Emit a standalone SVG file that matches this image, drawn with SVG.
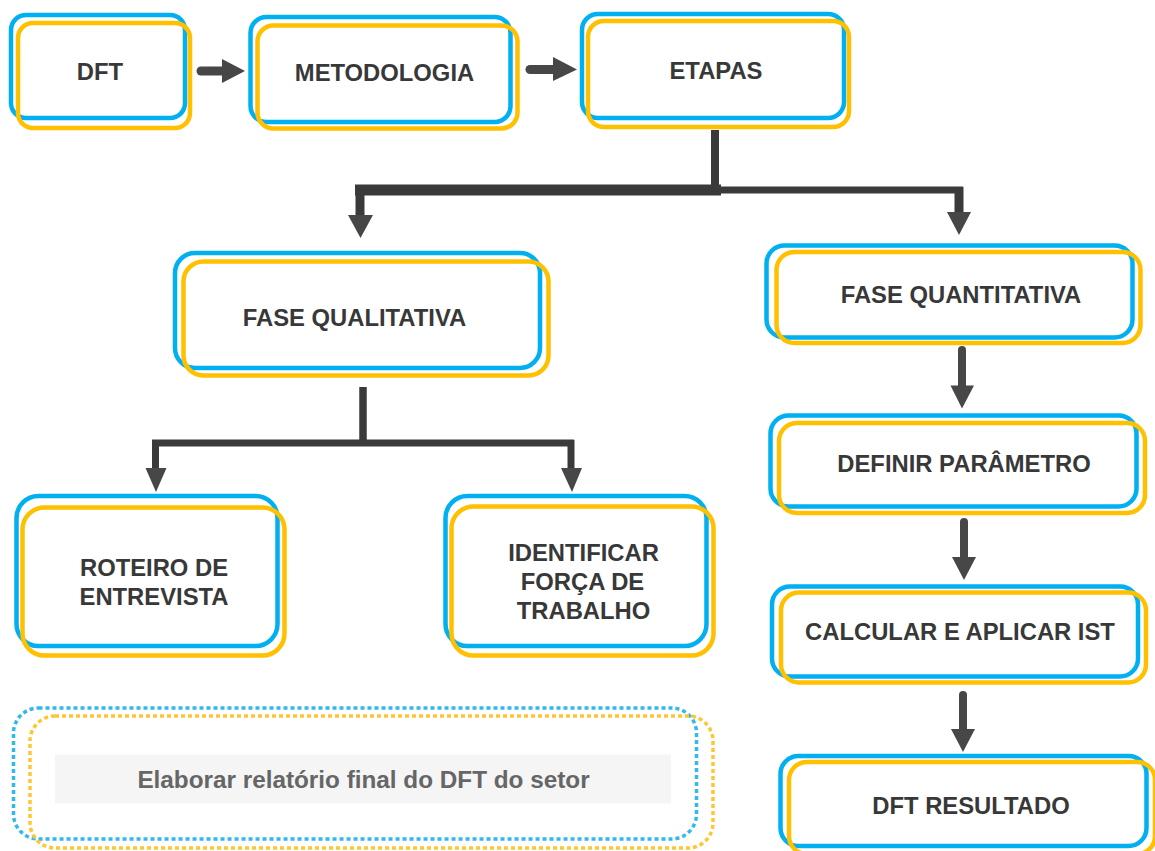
<svg xmlns="http://www.w3.org/2000/svg" width="1155" height="851" viewBox="0 0 1155 851">
<style>
.b{fill:none;stroke:#00B0F0;stroke-width:4.5}
.y{fill:none;stroke:#FFC000;stroke-width:4.5}
.t{font-family:"Liberation Sans",Arial,sans-serif;font-weight:bold;font-size:23.8px;fill:#383838;text-anchor:middle}
.ln{stroke:#3a3a3a;fill:none}
.sh{stroke:#474747;fill:none;stroke-linecap:round}
.hd{fill:#474747}
.bd{fill:none;stroke:#33B8EE;stroke-width:3.5;stroke-dasharray:4 3}
.yd{fill:none;stroke:#FFC533;stroke-width:3.5;stroke-dasharray:4 3}
</style>
<rect width="1155" height="851" fill="#ffffff"/>
<g id="connectors">
<line class="sh" x1="201" y1="71" x2="224" y2="71" stroke-width="9"/>
<polygon class="hd" points="222,59 245,71 222,83"/>
<line class="sh" x1="530" y1="69.5" x2="555" y2="69.5" stroke-width="9"/>
<polygon class="hd" points="553,57 577,69.5 553,81"/>
<line class="ln" x1="715" y1="130" x2="715" y2="195" stroke-width="8"/>
<rect x="355" y="184.5" width="366" height="11" fill="#3a3a3a"/>
<rect x="719" y="186.5" width="244" height="7" fill="#3a3a3a"/>
<line class="ln" x1="360" y1="190" x2="360" y2="217" stroke-width="9" stroke="#474747"/>
<polygon class="hd" points="348,215 373,215 360.5,238"/>
<line class="ln" x1="959" y1="187" x2="959" y2="213" stroke-width="9" stroke="#474747"/>
<polygon class="hd" points="947,212 971,212 959,235"/>
<line class="ln" x1="363" y1="387" x2="363" y2="446" stroke-width="7.5"/>
<line class="ln" x1="152" y1="443" x2="574" y2="443" stroke-width="7"/>
<line class="ln" x1="155.5" y1="440" x2="155.5" y2="469" stroke-width="7" stroke="#474747"/>
<polygon class="hd" points="145.5,468 166.5,468 156,492"/>
<line class="ln" x1="571" y1="440" x2="571" y2="469" stroke-width="7" stroke="#474747"/>
<polygon class="hd" points="561,468 582,468 572,492"/>
<line class="sh" x1="962" y1="350" x2="962" y2="388" stroke-width="8"/>
<polygon class="hd" points="950.5,385.5 974,385.5 962,408.5"/>
<line class="sh" x1="964" y1="522" x2="964" y2="559" stroke-width="8"/>
<polygon class="hd" points="952,557 976,557 964,580"/>
<line class="sh" x1="963" y1="695" x2="963" y2="731" stroke-width="8"/>
<polygon class="hd" points="951,729 975,729 963,752"/>
</g>
<g id="n-dft">
<rect class="b" x="11" y="15" width="174" height="103" rx="15"/>
<rect class="y" x="18" y="23" width="172" height="105" rx="15"/>
<text class="t" x="100" y="80">DFT</text>
</g>
<g id="n-metodologia">
<rect class="b" x="250.5" y="17" width="260" height="105" rx="16"/>
<rect class="y" x="257.5" y="25.5" width="260" height="103" rx="16"/>
<text class="t" x="384.5" y="81">METODOLOGIA</text>
</g>
<g id="n-etapas">
<rect class="b" x="582" y="14" width="262" height="104" rx="16"/>
<rect class="y" x="588" y="21" width="261" height="106" rx="16"/>
<text class="t" x="716" y="79">ETAPAS</text>
</g>
<g id="n-qualitativa">
<rect class="b" x="175" y="253" width="365" height="115" rx="20"/>
<rect class="y" x="183.5" y="261.5" width="365" height="114" rx="20"/>
<text class="t" x="354.5" y="326">FASE QUALITATIVA</text>
</g>
<g id="n-roteiro">
<rect class="b" x="16.5" y="496" width="261" height="150" rx="22"/>
<rect class="y" x="22.5" y="507.5" width="262" height="148" rx="22"/>
<text class="t" x="154" y="575.5">ROTEIRO DE</text>
<text class="t" x="154" y="605">ENTREVISTA</text>
</g>
<g id="n-identificar">
<rect class="b" x="445.5" y="496" width="261" height="150" rx="22"/>
<rect class="y" x="451.5" y="506.5" width="262" height="149" rx="22"/>
<text class="t" x="583.5" y="561">IDENTIFICAR</text>
<text class="t" x="582.5" y="590">FORÇA DE</text>
<text class="t" x="583.5" y="618.5">TRABALHO</text>
</g>
<g id="n-quantitativa">
<rect class="b" x="766.5" y="245.5" width="366" height="92" rx="18"/>
<rect class="y" x="776.5" y="252" width="364" height="91" rx="18"/>
<text class="t" x="961" y="303">FASE QUANTITATIVA</text>
</g>
<g id="n-definir">
<rect class="b" x="770.5" y="415.5" width="366" height="91" rx="18"/>
<rect class="y" x="779" y="423" width="366" height="90" rx="18"/>
<text class="t" x="964" y="471.5">DEFINIR PARÂMETRO</text>
</g>
<g id="n-calcular">
<rect class="b" x="772" y="586.5" width="366" height="90" rx="18"/>
<rect class="y" x="781" y="592.5" width="365" height="90" rx="18"/>
<text class="t" x="960" y="640">CALCULAR E APLICAR IST</text>
</g>
<g id="n-resultado">
<rect class="b" x="780.5" y="756" width="366" height="90" rx="18"/>
<rect class="y" x="789" y="762" width="366" height="92" rx="18"/>
<text class="t" x="971" y="814">DFT RESULTADO</text>
</g>
<g id="n-relatorio">
<rect class="bd" x="13.5" y="708" width="683" height="131" rx="25"/>
<rect class="yd" x="30" y="716" width="683" height="132" rx="25"/>
<rect x="55" y="754.5" width="616" height="49" fill="#f5f5f5"/>
<text x="363.5" y="787.5" font-family="Liberation Sans, Arial, sans-serif" font-weight="bold" font-size="24.3" fill="#666666" text-anchor="middle">Elaborar relatório final do DFT do setor</text>
</g>
</svg>
